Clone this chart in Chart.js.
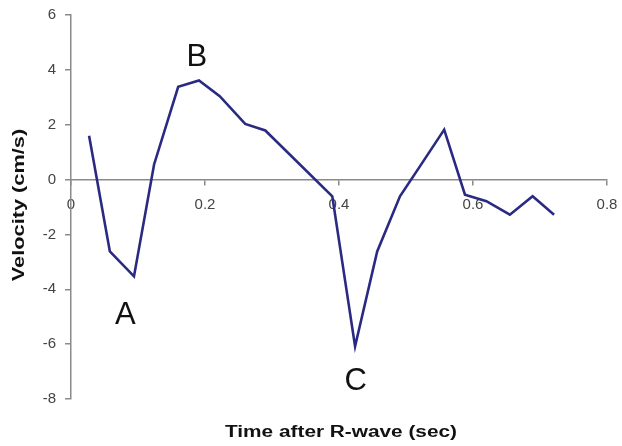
<!DOCTYPE html>
<html>
<head>
<meta charset="utf-8">
<script src="https://cdn.jsdelivr.net/npm/chart.js@4/dist/chart.umd.min.js"></script>
<style>
  html, body { margin: 0; padding: 0; background: #fff; }
  #wrap { width: 622px; height: 446px; }
</style>
</head>
<body>
<div id="wrap"><canvas id="velChart"></canvas></div>
<script>
// ── Data ────────────────────────────────────────────────────
const timeSec  = [0.027, 0.058, 0.094, 0.124, 0.160, 0.191, 0.222, 0.260, 0.290,
                  0.390, 0.424, 0.457, 0.491, 0.521, 0.557, 0.588, 0.620, 0.655, 0.689, 0.721];
const velocity = [1.60, -2.62, -3.53, 0.55, 3.38, 3.61, 3.04, 2.03, 1.79,
                  -0.61, -6.08, -2.62, -0.61, 0.49, 1.82, -0.55, -0.79, -1.28, -0.61, -1.28];

const peakNames = ['A', 'B', 'C'];
const peakX     = [0.081, 0.188, 0.425];
const peakY     = [-4.95, 4.45, -7.35];

const xTitle = 'Time after R-wave (sec)';
const yTitle = 'Velocity (cm/s)';

const AXIS_GREY = '#8a8a8a';
const TICK_FONT = { family: 'Liberation Sans, Arial, sans-serif', size: 15 };

// ── Text overlay: peak letters + axis titles ───────────────
const overlayText = {
    id: 'overlayText',
    afterDraw(chart) {
        const { ctx, scales: { x, y } } = chart;
        ctx.save();
        ctx.fillStyle = '#111';
        ctx.textAlign = 'center';
        ctx.textBaseline = 'middle';
        ctx.font = '31px "Liberation Sans", Arial, sans-serif';
        peakNames.forEach((name, i) => {
            ctx.fillText(name, x.getPixelForValue(peakX[i]), y.getPixelForValue(peakY[i]));
        });

        // axis titles are stretched wide in the original
        ctx.font = 'bold 16px "Liberation Sans", Arial, sans-serif';
        ctx.save();
        ctx.translate(341, 433);
        ctx.scale(1.3, 1);
        ctx.fillText(xTitle, 0, 0);
        ctx.restore();

        ctx.translate(20, 205);
        ctx.rotate(-Math.PI / 2);
        ctx.scale(1.36, 1);
        ctx.fillText(yTitle, 0, 0);
        ctx.restore();
    }
};

new Chart(document.getElementById('velChart').getContext('2d'), {
    type: 'line',
    data: {
        datasets: [{
            data: timeSec.map((t, i) => ({ x: t, y: velocity[i] })),
            borderColor: '#2a2a82',
            borderWidth: 2.6,
            pointRadius: 0,
            tension: 0,
            fill: false
        }]
    },
    options: {
        responsive: true,
        maintainAspectRatio: false,
        animation: false,
        layout: { padding: { top: 15, right: 0, bottom: 47, left: 0 } },
        plugins: {
            legend: { display: false },
            tooltip: { enabled: false }
        },
        scales: {
            x: {
                type: 'linear',
                position: { y: 0 },
                min: 0,
                max: 0.8,
                afterFit: (scale) => { scale.paddingRight = 15; },
                ticks: { stepSize: 0.2, color: '#444', font: TICK_FONT, padding: 11, maxRotation: 0 },
                grid: { drawOnChartArea: false, drawTicks: true, tickLength: 5, color: AXIS_GREY, lineWidth: 1.5 },
                border: { display: true, color: AXIS_GREY, width: 1.5 }
            },
            y: {
                type: 'linear',
                min: -8,
                max: 6,
                afterFit: (scale) => { scale.width = 71; scale.paddingTop = 0; scale.paddingBottom = 0; },
                ticks: { stepSize: 2, color: '#444', font: TICK_FONT, padding: 9 },
                grid: { drawOnChartArea: false, drawTicks: true, tickLength: 6, color: AXIS_GREY, lineWidth: 1.5 },
                border: { display: true, color: AXIS_GREY, width: 1.5 }
            }
        }
    },
    plugins: [overlayText]
});
</script>
</body>
</html>
